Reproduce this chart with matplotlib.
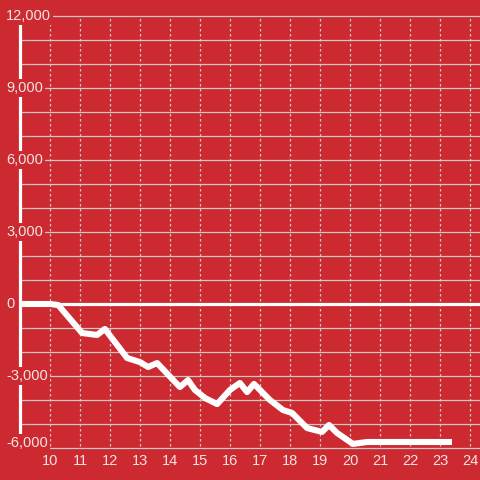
import matplotlib
matplotlib.use('Agg')
from matplotlib import pyplot as plt
from matplotlib import transforms

# series
hours = [8.9, 10.0, 10.27, 11.07, 11.57, 11.83, 12.57, 13.0, 13.27, 13.57,
         14.33, 14.6, 14.83, 15.17, 15.57, 16.0, 16.33, 16.57, 16.8, 17.33,
         17.77, 18.07, 18.57, 19.07, 19.3, 19.57, 20.1, 20.57, 23.4]
values = [0, 0, -40, -1210, -1290, -1040, -2250, -2420, -2625, -2460,
          -3460, -3170, -3580, -3920, -4170, -3580, -3290, -3670, -3330, -4000,
          -4420, -4540, -5170, -5330, -5040, -5375, -5830, -5750, -5750]

x_ticks = list(range(10, 25))
y_ticks = [-6000, -3000, 0, 3000, 6000, 9000, 12000]
y_grid = list(range(-6000, 12001, 1000))

RED = '#cc2a30'
TXT = '#f3e4e4'
GRID = '#d2c6c6'

plt.rcParams['font.family'] = ['Liberation Sans', 'DejaVu Sans']

fig = plt.figure(figsize=(4.8, 4.8), dpi=100, facecolor=RED)
ax = fig.add_axes([20 / 480, 32 / 480, 460 / 480, 432 / 480], facecolor=RED)
ax.set_xlim(9, 9 + 460 / 30)
ax.set_ylim(-6000, 12000)

for y in y_grid:
    ax.axhline(y, color=GRID, lw=0.9, zorder=1, clip_on=False)
ax.vlines(x_ticks, -5920, 12000, colors=GRID, lw=0.9,
          linestyles=(0, (2, 2)), zorder=1)
ax.axhline(0, color='white', lw=2.3, zorder=2)

ax.plot(hours, values, color='white', lw=4.4, solid_joinstyle='round',
        solid_capstyle='butt', zorder=4)

for s in ['top', 'right', 'bottom']:
    ax.spines[s].set_visible(False)
ax.spines['left'].set_color('white')
ax.spines['left'].set_linewidth(2.3)
ax.set_xticks([])
ax.set_yticks([])

ytr = ax.get_yaxis_transform()
for y in y_ticks:
    # lowest label sits a little above its gridline
    ypos = y + 200 if y == -6000 else y
    ax.text(-14 / 460, ypos, f'{y:,}', transform=ytr, ha='left', va='center',
            fontsize=10.5, color=TXT, zorder=6,
            bbox=dict(boxstyle='square,pad=0.15', fc=RED, ec='none'))

xtr = ax.get_xaxis_transform()
for x in x_ticks:
    ax.text(x, -13 / 432, str(x), transform=xtr, ha='center', va='center',
            fontsize=10.5, color=TXT)

fig.savefig('out.png', dpi=100, facecolor=RED)
